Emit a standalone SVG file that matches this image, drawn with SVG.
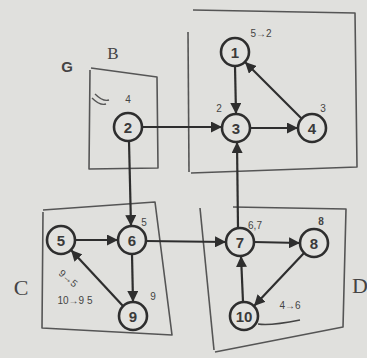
<svg xmlns="http://www.w3.org/2000/svg" width="367" height="358" viewBox="0 0 367 358">
  <defs>
    <marker id="arrow" viewBox="0 0 10 10" refX="10" refY="5" markerWidth="5" markerHeight="5" orient="auto" markerUnits="strokeWidth">
      <path d="M0,0 L10,5 L0,10 z" fill="#2e2e2e"/>
    </marker>
    <style>
      .node circle { fill: #e2e2df; stroke: #2e2e2e; stroke-width: 2.6; }
      .node text { font-family: "Liberation Sans", Arial, sans-serif; font-size: 15px; font-weight: bold; fill: #3a3a3a; text-anchor: middle; dominant-baseline: central; }
      .edge { stroke: #2e2e2e; stroke-width: 2.2; fill: none; marker-end: url(#arrow); }
      .box { stroke: #555; stroke-width: 1.6; fill: none; stroke-linejoin: round; }
      .label { font-family: "Liberation Serif", "Times New Roman", serif; fill: #444; }
      .label.sans { font-family: "Liberation Sans", Arial, sans-serif; font-weight: bold; }
      .note { font-family: "Liberation Sans", Arial, sans-serif; font-size: 10px; fill: #444; }
    </style>
  </defs>

  <rect width="367" height="358" fill="#e0e0dd"/>

  <!-- component outlines -->
  <g id="outlines">
    <path class="box" d="M91,68 Q120,72 157,77 L158,168 L89,169 L90,70"/>
    <path class="box" d="M193,10 L355,13 L357,167 L191,173"/>
    <path class="box" d="M188,32 L189,172"/>
    <path class="box" d="M43,210 L155,202 L172,335 L42,328 L43,212"/>
    <path class="box" d="M233,207 L346,209 L343,327 L215,352"/>
    <path class="box" d="M200,208 L214,350"/>
  </g>

  <!-- component labels -->
  <g id="labels">
    <text class="label sans" x="67" y="72" font-size="15" text-anchor="middle">G</text>
    <text class="label" x="113" y="59" font-size="17" text-anchor="middle">B</text>
    <text class="label" x="21" y="295" font-size="22" text-anchor="middle">C</text>
    <text class="label" x="360" y="293" font-size="22" text-anchor="middle">D</text>
  </g>

  <!-- small handwritten marks -->
  <g id="notes">
    <text class="note" x="128" y="103" text-anchor="middle">4</text>
    <text class="note" x="261" y="37" text-anchor="middle">5→2</text>
    <text class="note" x="219" y="112" text-anchor="middle">2</text>
    <text class="note" x="323" y="112" text-anchor="middle">3</text>
    <text class="note" x="144" y="226" text-anchor="middle">5</text>
    <text class="note" x="153" y="300" font-size="13" text-anchor="middle">9</text>
    <text class="note" x="255" y="229" text-anchor="middle">6,7</text>
    <text class="note" x="321" y="225" font-weight="bold" text-anchor="middle">8</text>
    <text class="note" x="290" y="309" text-anchor="middle">4→6</text>
    <text class="note" x="66" y="281" transform="rotate(40 66 281)" font-size="8" text-anchor="middle">9→5</text>
    <text class="note" x="75" y="304" font-size="9" text-anchor="middle">10→9 5</text>
    <path d="M92,98 Q100,106 106,104 M95,94 Q103,102 109,100" stroke="#555" stroke-width="1.4" fill="none"/>
    <path d="M258,324 Q270,326 300,320" stroke="#444" stroke-width="1.4" fill="none"/>
  </g>

  <!-- connectors -->
  <g id="connectors">
    <line class="edge" x1="142" y1="127" x2="222" y2="127"/>
    <line class="edge" x1="129" y1="141" x2="131" y2="226"/>
    <line class="edge" x1="235" y1="66" x2="236" y2="114"/>
    <line class="edge" x1="250" y1="128" x2="298" y2="128"/>
    <line class="edge" x1="302" y1="119" x2="245" y2="62"/>
    <line class="edge" x1="238" y1="228" x2="237" y2="142"/>
    <line class="edge" x1="75" y1="240" x2="118" y2="240"/>
    <line class="edge" x1="146" y1="241" x2="226" y2="242"/>
    <line class="edge" x1="132" y1="254" x2="133" y2="302"/>
    <line class="edge" x1="123" y1="306" x2="71" y2="250"/>
    <line class="edge" x1="254" y1="242" x2="300" y2="243"/>
    <line class="edge" x1="304" y1="253" x2="254" y2="306"/>
    <line class="edge" x1="243" y1="302" x2="241" y2="256"/>
  </g>

  <!-- nodes -->
  <g id="node-1" class="node"><circle cx="235" cy="52" r="14"/><text x="235" y="52">1</text></g>
  <g id="node-2" class="node"><circle cx="128" cy="127" r="14"/><text x="128" y="127">2</text></g>
  <g id="node-3" class="node"><circle cx="236" cy="128" r="14"/><text x="236" y="128">3</text></g>
  <g id="node-4" class="node"><circle cx="312" cy="128" r="14"/><text x="312" y="128">4</text></g>
  <g id="node-5" class="node"><circle cx="61" cy="240" r="14"/><text x="61" y="240">5</text></g>
  <g id="node-6" class="node"><circle cx="132" cy="240" r="14"/><text x="132" y="240">6</text></g>
  <g id="node-7" class="node"><circle cx="240" cy="242" r="14"/><text x="240" y="242">7</text></g>
  <g id="node-8" class="node"><circle cx="314" cy="243" r="14"/><text x="314" y="243">8</text></g>
  <g id="node-9" class="node"><circle cx="133" cy="316" r="14"/><text x="133" y="316">9</text></g>
  <g id="node-10" class="node"><circle cx="244" cy="316" r="14"/><text x="244" y="316">10</text></g>
</svg>
